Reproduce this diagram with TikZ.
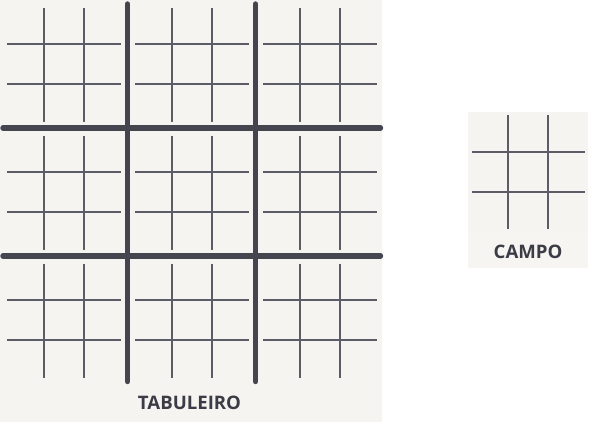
\documentclass[tikz,border=0pt]{standalone}
\usepackage{fontspec}
\setmainfont{Open Sans}
\definecolor{paper}{HTML}{F6F4F0}
\definecolor{paperband}{HTML}{F7F5F2}
\definecolor{thickline}{HTML}{454550}
\definecolor{thinline}{HTML}{5C5C66}
\definecolor{labeltext}{HTML}{3C3C46}
\begin{document}
\begin{tikzpicture}[x=1pt,y=-1pt,
    thin grid/.style={thinline, line width=2pt},
    thick grid/.style={thickline, line width=5.4pt, line cap=round},
    board label/.style={labeltext, font=\bfseries\fontsize{18.6}{20}\selectfont}]
    \useasboundingbox (0,0) rectangle (589,423);
    % Draw board background
    \fill [paper] (0,0) rectangle (382,422);
    % Draw the nine small grids
    \foreach \bx in {0,128,256} {
        \foreach \by in {0,128,256} {
            \foreach \d in {44,84} {
                \draw [thin grid] (\bx+\d,\by+7.5) -- (\bx+\d,\by+121.5);
                \draw [thin grid] (\bx+7,\by+\d) -- (\bx+120.5,\by+\d);
            }
        }
    }
    % Draw thick separators
    \foreach \s in {127.5,255.5} {
        \draw [thick grid] (\s,4) -- (\s,381.5);
        \draw [thick grid] (3,\s+0.5) -- (380.5,\s+0.5);
    }
    \node [board label, anchor=base] (tabuleiro) at (189.5,409) {TABULEIRO};
    % Draw single field
    \fill [paper] (468,112) rectangle (588,268);
    \fill [paperband] (468,233) rectangle (588,268);
    \foreach \d in {-20,20} {
        \draw [thin grid] (528+\d,115) -- (528+\d,229);
        \draw [thin grid] (472,172+\d) -- (585,172+\d);
    }
    \node [board label, anchor=base] (campo) at (528,258) {CAMPO};
\end{tikzpicture}
\end{document}
